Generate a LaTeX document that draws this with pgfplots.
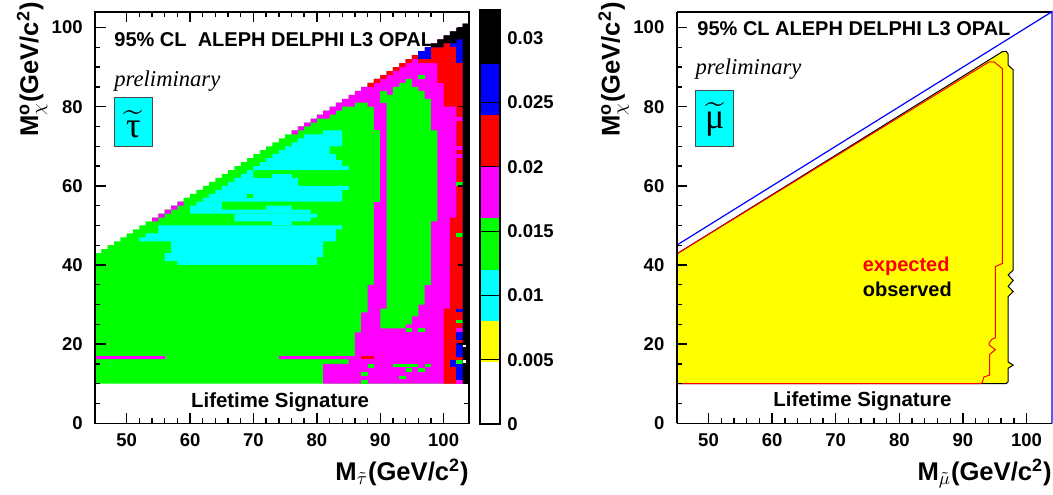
\documentclass[border=0pt]{standalone}
\usepackage{fontspec}
\setmainfont{Liberation Sans}
\newfontfamily\serif{Liberation Serif}
\usepackage{amsmath}
\usepackage{pgfplots}
\pgfplotsset{compat=1.18}

\definecolor{rgreen}{RGB}{0,255,0}
\definecolor{rcyan}{RGB}{0,255,255}
\definecolor{rmag}{RGB}{255,0,255}
\definecolor{rred}{RGB}{255,0,0}
\definecolor{rblue}{RGB}{0,0,255}
\definecolor{ryellow}{RGB}{255,255,0}

\tikzset{txt/.style={anchor=base west, inner sep=0pt, font=\bfseries\fontsize{10}{12}\selectfont}}
\pgfplotsset{
  cell/.style={draw=none, fill=#1},
  rootax/.style={
    scale only axis, height=205.8pt,
    xmin=45, xmax=104, ymin=0, ymax=104,
    xtick={50,60,...,100}, ytick={0,20,...,100},
    minor x tick num=4, minor y tick num=3,
    tick align=inside, major tick length=5.3pt, minor tick length=2.7pt,
    axis line style={line width=0.8pt}, tick style={line width=0.7pt, black},
    /pgf/number format/assume math mode=true,
    tick label style={font=\bfseries\fontsize{9.25}{10}\selectfont},
    xticklabel style={inner sep=0pt, yshift=-5pt},
    yticklabel style={inner sep=0pt, xshift=-6pt},
    label style={font=\bfseries\fontsize{12.8}{14}\selectfont, inner sep=0pt},
    xlabel style={at={(axis description cs:1,-0.1385)}, anchor=base east},
    ylabel style={at={(axis description cs:-0.1524,1.0236)}, anchor=base east},
    axis on top,
  },
}

\begin{document}
\begin{tikzpicture}
\path[use as bounding box] (0,0) rectangle (526.5pt,247pt);

% ---------------- stau panel ----------------
\begin{axis}[rootax, at={(47.5pt,35.35pt)}, anchor=south west, width=187pt,
  xtick pos=both, ytick pos=both,
  xlabel={M$_{\tilde{\tau}}$(GeV/c\textsuperscript{2})},
  ylabel={M$_{\chi}^{\textbf{o}}$(GeV/c\textsuperscript{2})}]
\node[txt] at (axis cs:48,95.1) {95\% CL\ \ ALEPH DELPHI L3 OPAL};

% green everywhere below the kinematic limit
\addplot[cell=rgreen, const plot] coordinates {(45,10)(45,43)(46,44)(47,45)(48,46)(49,47)(50,48)(51,49)(52,50)(53,51)(54,52)(55,53)(56,54)(57,55)(58,56)(59,57)(60,58)(61,59)(62,60)(63,61)(64,62)(65,63)(66,64)(67,65)(68,66)(69,67)(70,68)(71,69)(72,70)(73,71)(74,72)(75,73)(76,74)(77,75)(78,76)(79,77)(80,78)(81,79)(82,80)(83,81)(84,82)(85,83)(86,84)(87,85)(88,86)(89,87)(90,88)(91,89)(92,90)(93,91)(94,92)(95,93)(96,94)(97,95)(98,96)(99,97)(100,98)(101,99)(102,100)(103,101)(104,10)} --cycle;

% cyan islands
\addplot[cell=rcyan] coordinates {(58,40)(58,41)(56,41)(56,43)(57,43)(57,46)(52,46)(52,47)(53,47)(53,48)(55,48)(55,50)(84,50)(84,49)(83,49)(83,46)(81,46)(81,42)(80,42)(80,40)} --cycle;
\addplot[cell=rcyan] coordinates {(73,50)(76,50)(76,51)(73,51)} --cycle;
\addplot[cell=rcyan] coordinates {(67,51)(79,51)(79,52)(80,52)(80,53)(67,53)} --cycle;
\addplot[cell=rcyan] coordinates {(60,53)(79,53)(79,54)(76,54)(76,55)(72,55)(72,54)(65,54)(65,56)(61,56)(61,55)(60,55)} --cycle;
\addplot[cell=rcyan] coordinates {(62,56)(62,57)(63,57)(63,58)(64,58)(64,59)(65,59)(65,60)(66,60)(66,61)(67,61)(67,62)(68,62)(68,63)(69,63)(69,64)(70,64)(70,65)(71,65)(71,66)(72,66)(72,67)(73,67)(73,68)(74,68)(74,69)(75,69)(75,70)(76,70)(76,71)(77,71)(77,72)(78,72)(78,73)(81,73)(81,74)(84,74)(84,70)(82,70)(82,68)(83,68)(83,66.5)(84,66.5)(84,65)(85,65)(85,64)(70,64)(70,62)(77,62)(77,60)(85,60)(85,59)(84,59)(84,56)} --cycle;
\addplot[cell=rcyan] coordinates {(73,62)(76,62)(76,63)(73,63)} --cycle;
\addplot[cell=rgreen] coordinates {(69,57)(70,57)(70,58)(69,58)} --cycle;

% magenta
\addplot[cell=rmag, const plot] coordinates {(54,51)(54,52)(55,53)(56,54)(57,55)(58,56)(59,55)(58,54)(57,53)(56,52)(55,51)(54,51)} --cycle;
\addplot[cell=rmag] coordinates {(45,16.2)(56,16.2)(56,17)(45,17)} --cycle;
\addplot[cell=rmag, const plot] coordinates {(81,10)(104,10)(104,101)(103,100)(102,99)(101,98)(100,97)(99,96)(98,95)(97,94)(96,93)(95,92)(94,91)(93,90)(92,89)(91,88)(90,87)(89,86)(88,85)(87,84)(86,83)(85,82)(84,81)(83,80)(82,79)(81,78)(80,77)(79,76)(78,75)(77,74)(76,73)(77,74)(78,75)(79,76)(80,77)(81,77)(82,78)(83,79)(84,80)(85,80)(86,81)(87,81)(88,80)(89,35)(88,28)(87,23)(86,17)(74,16.2)(85,15)(81,10)} --cycle;

% green inside the magenta
\addplot[cell=rgreen] coordinates {(89,56)(90,56)(90,74)(89,74)} --cycle;
\addplot[cell=rgreen] coordinates {(90,81)(91,81)(91,84)(90,84)} --cycle;
\addplot[cell=rgreen] coordinates {(90,24)(94,24)(94,25)(95,25)(95,27)(96,27)(96,30)(97,30)(97,35)(98,35)(98,51)(99,51)(99,74)(98,74)(98,82)(97,82)(97,84)(96,84)(96,85)(95,85)(95,87)(94,87)(94,86)(93,86)(93,85)(92,85)(92,83)(91,83)(91,29)(90,29)} --cycle;
\addplot[cell=rgreen] coordinates {(96,87)(97,87)(97,88)(96,88)} --cycle;
\addplot[cell=rgreen] coordinates {(94,23)(95,23)(95,24)(94,24)} --cycle;
\addplot[cell=rgreen] coordinates {(96,23)(97,23)(97,24)(96,24)} --cycle;
\addplot[cell=rgreen] coordinates {(92,14.2)(96,14.2)(96,15.1)(92,15.1)} --cycle;
\addplot[cell=rgreen] coordinates {(97,14.2)(98,14.2)(98,15.1)(97,15.1)} --cycle;
\addplot[cell=rgreen] coordinates {(94,13)(95,13)(95,13.9)(94,13.9)} --cycle;
\addplot[cell=rgreen] coordinates {(96,13)(97,13)(97,13.9)(96,13.9)} --cycle;
\addplot[cell=rgreen] coordinates {(93,11.1)(94,11.1)(94,12)(93,12)} --cycle;
\addplot[cell=rgreen] coordinates {(88,14.1)(89,14.1)(89,15.1)(88,15.1)} --cycle;
\addplot[cell=rgreen] coordinates {(87,12)(88,12)(88,13)(87,13)} --cycle;
\addplot[cell=rgreen] coordinates {(87,10)(88,10)(88,11)(87,11)} --cycle;

% red
\addplot[cell=rred, const plot] coordinates {(88,85)(88,86)(89,87)(90,88)(91,89)(92,90)(93,91)(94,92)(95,93)(96,92)(95,91)(94,90)(93,89)(92,88)(91,87)(90,86)(89,85)(88,85)} --cycle;
\addplot[cell=rred] coordinates {(96,91)(98,91)(98,92)(96,92)} --cycle;
\addplot[cell=rred] coordinates {(98,91)(99,91)(99,86)(100,86)(100,80)(102,80)(102,52)(101,52)(101,29)(100,29)(100,10)(103,10)(103,97)(102,97)(102,96)(100,96)(100,95)(98,95)} --cycle;
\addplot[cell=rred] coordinates {(87,16.2)(89,16.2)(89,17)(87,17)} --cycle;

% cells of the last column
\addplot[cell=rmag] coordinates {(102,76.5)(103,76.5)(103,77.3)(102,77.3)} --cycle;
\addplot[cell=rmag] coordinates {(102,69)(103,69)(103,70)(102,70)} --cycle;
\addplot[cell=rmag] coordinates {(102,67)(103,67)(103,68)(102,68)} --cycle;
\addplot[cell=rmag] coordinates {(102,23.1)(103,23.1)(103,24)(102,24)} --cycle;
\addplot[cell=rmag] coordinates {(102,10)(103,10)(103,10.9)(102,10.9)} --cycle;
\addplot[cell=rgreen] coordinates {(102,60)(103,60)(103,61)(102,61)} --cycle;
\addplot[cell=rgreen] coordinates {(102,47)(103,47)(103,48)(102,48)} --cycle;
\addplot[cell=rgreen] coordinates {(102,25.3)(103,25.3)(103,26.1)(102,26.1)} --cycle;
\addplot[cell=rgreen] coordinates {(102,15.1)(103,15.1)(103,15.9)(102,15.9)} --cycle;

% blue
\addplot[cell=rblue] coordinates {(96,92)(97,92)(97,94)(96,94)} --cycle;
\addplot[cell=rblue] coordinates {(97,92)(98,92)(98,95)(97,95)} --cycle;
\addplot[cell=rblue] coordinates {(101,95)(102,95)(102,96)(101,96)} --cycle;
\addplot[cell=rblue] coordinates {(102,91)(103,91)(103,97)(102,97)} --cycle;
\addplot[cell=rblue] coordinates {(102,28.2)(103,28.2)(103,29)(102,29)} --cycle;
\addplot[cell=rblue] coordinates {(102,21)(103,21)(103,23.1)(102,23.1)} --cycle;
\addplot[cell=rblue] coordinates {(102,16.8)(103,16.8)(103,20.2)(102,20.2)} --cycle;
\addplot[cell=rblue] coordinates {(102,10.9)(103,10.9)(103,15.1)(102,15.1)} --cycle;
\addplot[cell=rblue] coordinates {(101,14.3)(102,14.3)(102,16)(101,16)} --cycle;

% black
\addplot[cell=black] coordinates {(98,95)(98,96)(99,96)(99,97)(100,97)(100,98)(101,98)(101,99)(102,99)(102,100)(103,100)(103,101)(104,101)(104,10)(103,10)(103,97)(102,97)(102,96)(100,96)(100,95)} --cycle;
\addplot[cell=white] coordinates {(103,19.3)(103.6,19.3)(103.6,20)(103,20)} --cycle;
\addplot[cell=white] coordinates {(103,15.3)(103.6,15.3)(103.6,16)(103,16)} --cycle;

\node[anchor=base west, inner sep=0pt, font=\serif\itshape\fontsize{11.3}{12}\selectfont] at (axis cs:48,85.1) {preliminary};
\draw[fill=rcyan, draw=black!70, line width=0.5pt] (axis cs:48,70) rectangle (axis cs:54.1,82.2);
\node[inner sep=0pt, font=\fontsize{18}{18}\selectfont] at (axis cs:51.05,75.6) {$\widetilde{\hbox{\serif τ}}$};
\node[anchor=base, inner sep=0pt, font=\bfseries\fontsize{10.2}{12}\selectfont] at (axis cs:74.2,4.1) {Lifetime Signature};
\end{axis}

% ---------------- colour scale ----------------
\begin{axis}[at={(240pt,35pt)}, anchor=south west, scale only axis,
  width=10pt, height=207pt, xmin=0, xmax=1, ymin=0, ymax=0.0322,
  xtick=\empty, ytick={0,0.005,0.01,0.015,0.02,0.025,0.03},
  yticklabels={0,0.005,0.01,0.015,0.02,0.025,0.03}, scaled y ticks=false,
  ytick pos=right, yticklabel pos=right, major tick length=0pt,
  ymajorgrids, grid style={black, line width=0.6pt},
  axis line style={line width=0.8pt}, axis on top,
  /pgf/number format/assume math mode=true,
  yticklabel style={inner sep=0pt, anchor=west, xshift=3.5pt, font=\bfseries\fontsize{9.25}{10}\selectfont}]
\addplot[cell=ryellow] coordinates {(0,0.0048)(1,0.0048)(1,0.008)(0,0.008)} --cycle;
\addplot[cell=rcyan] coordinates {(0,0.008)(1,0.008)(1,0.012)(0,0.012)} --cycle;
\addplot[cell=rgreen] coordinates {(0,0.012)(1,0.012)(1,0.016)(0,0.016)} --cycle;
\addplot[cell=rmag] coordinates {(0,0.016)(1,0.016)(1,0.020)(0,0.020)} --cycle;
\addplot[cell=rred] coordinates {(0,0.020)(1,0.020)(1,0.024)(0,0.024)} --cycle;
\addplot[cell=rblue] coordinates {(0,0.024)(1,0.024)(1,0.028)(0,0.028)} --cycle;
\addplot[cell=black] coordinates {(0,0.028)(1,0.028)(1,0.0322)(0,0.0322)} --cycle;
\end{axis}

% ---------------- smuon panel ----------------
\begin{axis}[rootax, at={(338.35pt,35.35pt)}, anchor=south west, width=187.65pt,
  axis x line*=bottom, axis y line*=left, x axis line style={-}, y axis line style={-},
  clip=false,
  xlabel={M$_{\tilde{\mu}}$(GeV/c\textsuperscript{2})},
  ylabel={M$_{\chi}^{\textbf{o}}$(GeV/c\textsuperscript{2})}]
\node[txt] at (axis cs:48.2,98.1) {95\% CL ALEPH DELPHI L3 OPAL};
\node[anchor=base west, inner sep=0pt, font=\serif\itshape\fontsize{11.3}{12}\selectfont] at (axis cs:47.9,88.2) {preliminary};
% observed exclusion
\addplot[fill=ryellow, draw=black, line width=0.5pt] coordinates {(45,10)(45,42.8)(96.2,93.9)(96.8,94.0)(97.1,93.3)(97.1,90.5)(97.9,89.3)(97.9,38.7)(97.1,37.5)(97.9,36.1)(97.1,34.6)(97.9,33.3)(97.1,32.0)(97.1,15.5)(97.9,14.7)(97.1,13.9)(97.1,10.5)(96.8,10)} --cycle;
% expected exclusion
\addplot[rred, line width=0.5pt] coordinates {(45,42.8)(94.1,91.3)(94.9,91.3)(96.2,89.6)(96.2,40.4)(95.1,39.6)(95.1,21.6)(94.6,21.3)(94.1,20.3)(94.1,19.8)(95.1,18.6)(94.2,17.4)(94.2,12.2)(93.3,11.7)(93.0,10.2)(92.7,10.0)(45,10)};
% frame top and kinematic limit
\addplot[black, line width=0.8pt] coordinates {(45,104)(104,104)};
\addplot[rblue, line width=0.6pt] coordinates {(45,45)(104,104)(104,0)};
\draw[fill=rcyan, draw=black!70, line width=0.5pt] (axis cs:48,70) rectangle (axis cs:54,84.2);
\node[inner sep=0pt, font=\fontsize{18}{18}\selectfont] at (axis cs:51,76.8) {$\widetilde{\hbox{\serif μ}}$};
\node[txt, text=rred] at (axis cs:74.2,38.3) {expected};
\node[txt] at (axis cs:74.2,32.1) {observed};
\node[anchor=base, inner sep=0pt, font=\bfseries\fontsize{10.2}{12}\selectfont] at (axis cs:74.2,4.2) {Lifetime Signature};
\end{axis}
\end{tikzpicture}
\end{document}
